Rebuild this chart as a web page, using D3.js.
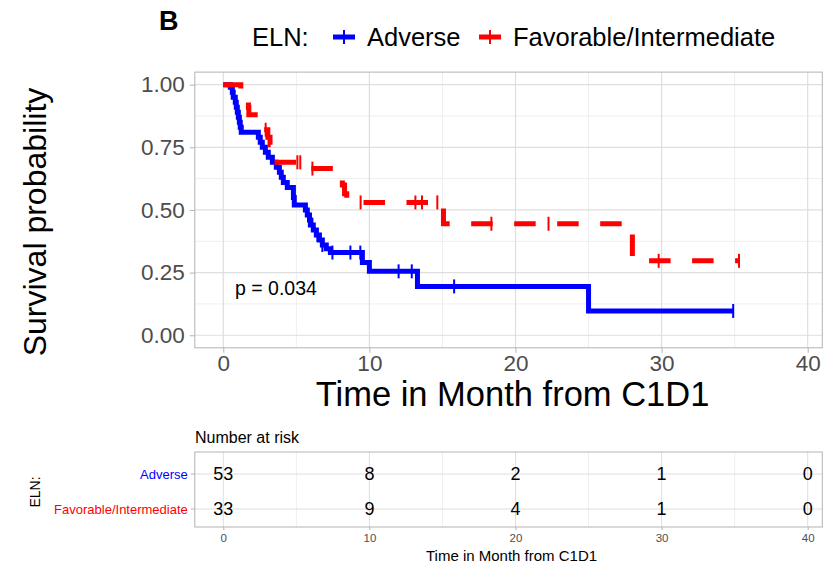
<!DOCTYPE html>
<html>
<head>
<meta charset="utf-8">
<script src="https://cdn.jsdelivr.net/npm/d3@7"></script>
<style>
  body { margin: 0; background: #fff; }
  text { font-family: "Liberation Sans", Arial, Helvetica, sans-serif; }
</style>
</head>
<body>
<script>
// ---- data ----
var groups = ['Adverse', 'Favorable/Intermediate'];
var groupColors = ['#0000ff', '#ff0000'];

// Adverse: step times (months) and survival after each step
var adverseTime = [0, 0.48, 0.62, 0.68, 0.82, 0.89, 0.96, 1.03, 1.1, 1.16, 1.23, 2.4, 2.53, 2.67, 2.88, 3.08, 3.36, 3.63, 3.84, 3.97, 4.11, 4.38, 4.8, 4.86, 5.62, 5.75, 5.9, 5.96, 6.16, 6.37, 6.58, 6.78, 7.05, 7.33, 9.52, 10.0, 13.29, 25.0];
var adverseSurv = [1, 0.99, 0.97, 0.95, 0.93, 0.91, 0.89, 0.87, 0.85, 0.83, 0.81, 0.79, 0.77, 0.75, 0.73, 0.71, 0.69, 0.67, 0.65, 0.63, 0.61, 0.59, 0.55, 0.52, 0.50, 0.48, 0.46, 0.44, 0.42, 0.40, 0.38, 0.36, 0.345, 0.33, 0.29, 0.255, 0.195, 0.097];
var adverseCensor = [6.1, 6.44, 6.78, 7.47, 8.7, 9.38, 12.0, 12.9, 15.8, 34.9];
var adverseEnd = 34.9;

// Favorable/Intermediate
var favTime = [0, 1.2, 1.5, 1.72, 1.75, 2.4, 2.65, 3.05, 3.2, 3.35, 3.42, 5.7, 8.05, 8.15, 8.3, 8.45, 15.07, 28.0];
var favSurv = [1, 0.97, 0.94, 0.91, 0.88, 0.85, 0.82, 0.79, 0.76, 0.725, 0.69, 0.665, 0.635, 0.60, 0.565, 0.53, 0.445, 0.297];
var favCensor = [2.9, 5.07, 5.27, 6.1, 9.4, 13.15, 13.6, 14.65, 18.35, 22.26, 29.8, 35.3];
var favEnd = 35.3;

// number at risk table
var riskTimes = [0, 10, 20, 30, 40];
var adverseRisk = [53, 8, 2, 1, 0];
var favRisk = [33, 9, 4, 1, 0];

var xTicks = [0, 10, 20, 30, 40];
var xMinor = [5, 15, 25, 35];
var yTicks = [0, 0.25, 0.5, 0.75, 1];
var yMinor = [0.125, 0.375, 0.625, 0.875];
var pLabel = 'p = 0.034';

// ---- layout ----
var W = 836, H = 570;
var svg = d3.select('body').append('svg').attr('width', W).attr('height', H);
svg.append('rect').attr('width', W).attr('height', H).attr('fill', '#fff');

var x = d3.scaleLinear().domain([-1.95, 41.0]).range([194.8, 822.3]);
var y = d3.scaleLinear().domain([-0.05, 1.05]).range([347.8, 72.1]);

/* panel A: survival curves */
var panel = svg.append('g');
panel.selectAll('.vminor').data(xMinor).enter().append('line')
  .attr('x1', d => x(d)).attr('x2', d => x(d)).attr('y1', y.range()[0]).attr('y2', y.range()[1])
  .attr('stroke', '#efefef').attr('stroke-width', 1);
panel.selectAll('.hminor').data(yMinor).enter().append('line')
  .attr('y1', d => y(d)).attr('y2', d => y(d)).attr('x1', x.range()[0]).attr('x2', x.range()[1])
  .attr('stroke', '#efefef').attr('stroke-width', 1);
panel.selectAll('.vmajor').data(xTicks).enter().append('line')
  .attr('x1', d => x(d)).attr('x2', d => x(d)).attr('y1', y.range()[0]).attr('y2', y.range()[1])
  .attr('stroke', '#dedede').attr('stroke-width', 1.2);
panel.selectAll('.hmajor').data(yTicks).enter().append('line')
  .attr('y1', d => y(d)).attr('y2', d => y(d)).attr('x1', x.range()[0]).attr('x2', x.range()[1])
  .attr('stroke', '#dedede').attr('stroke-width', 1.2);

// axes
var xAxis = svg.append('g').attr('transform', 'translate(0,' + y.range()[0] + ')')
  .call(d3.axisBottom(x).tickValues(xTicks).tickSize(5).tickPadding(5));
var yAxis = svg.append('g').attr('transform', 'translate(' + x.range()[0] + ',0)')
  .call(d3.axisLeft(y).tickValues(yTicks).tickFormat(d3.format('.2f')).tickSize(5).tickPadding(5));
[xAxis, yAxis].forEach(function (a) {
  a.select('.domain').remove();
  a.selectAll('line').attr('stroke', '#b3b3b3');
  a.selectAll('text').attr('fill', '#4d4d4d').style('font-size', '22.5px');
});
xAxis.selectAll('text').attr('dy', '0.6em');

panel.append('rect')
  .attr('x', x.range()[0]).attr('y', y.range()[1])
  .attr('width', x.range()[1] - x.range()[0]).attr('height', y.range()[0] - y.range()[1])
  .attr('fill', 'none').attr('stroke', '#b3b3b3').attr('stroke-width', 1);

// step curves
var stepLine = d3.line().x(d => x(d[0])).y(d => y(d[1])).curve(d3.curveStepAfter);
function stepPoints(times, surv, end) {
  var pts = times.map((t, i) => [t, surv[i]]);
  pts.push([end, surv[surv.length - 1]]);
  return pts;
}
function survAt(times, surv, t) {
  var i = d3.bisectRight(times, t) - 1;
  return surv[Math.max(0, i)];
}
var curves = [
  { time: adverseTime, surv: adverseSurv, cens: adverseCensor, end: adverseEnd, color: groupColors[0], dash: null },
  { time: favTime, surv: favSurv, cens: favCensor, end: favEnd, color: groupColors[1], dash: '21.5,21.5' }
];
curves.forEach(function (c) {
  var g = svg.append('g');
  g.append('path')
    .attr('d', stepLine(stepPoints(c.time, c.surv, c.end)))
    .attr('fill', 'none').attr('stroke', c.color).attr('stroke-width', 5)
    .attr('stroke-dasharray', c.dash);
  g.selectAll('.cens').data(c.cens).enter().append('line')
    .attr('x1', d => x(d)).attr('x2', d => x(d))
    .attr('y1', d => y(survAt(c.time, c.surv, d)) - 7)
    .attr('y2', d => y(survAt(c.time, c.surv, d)) + 7)
    .attr('stroke', c.color).attr('stroke-width', 2);
});

svg.append('text').attr('x', x(0.8)).attr('y', 295).style('font-size', '19.5px').attr('fill', '#000').text(pLabel);

// axis titles
svg.append('text').attr('transform', 'translate(46,222) rotate(-90)').attr('text-anchor', 'middle')
  .style('font-size', '32px').text('Survival probability');
svg.append('text').attr('x', (x.range()[0] + x.range()[1]) / 2 + 4).attr('y', 406).attr('text-anchor', 'middle')
  .style('font-size', '34.5px').text('Time in Month from C1D1');

// panel label
svg.append('text').attr('x', 159).attr('y', 30).style('font-size', '27px').style('font-weight', 'bold').text('B');

// legend
var leg = svg.append('g');
leg.append('text').attr('x', 252).attr('y', 46).style('font-size', '25.5px').text('ELN:');
var legX = [333, 479];
groups.forEach(function (gname, i) {
  leg.append('line').attr('x1', legX[i]).attr('x2', legX[i] + 22).attr('y1', 37).attr('y2', 37)
    .attr('stroke', groupColors[i]).attr('stroke-width', 5);
  leg.append('line').attr('x1', legX[i] + 11).attr('x2', legX[i] + 11).attr('y1', 30).attr('y2', 44)
    .attr('stroke', groupColors[i]).attr('stroke-width', 2);
  leg.append('text').attr('x', legX[i] + 34).attr('y', 46).style('font-size', '25.5px').text(gname);
});

/* risk table */
var tTop = 452, tBot = 527;
var rowY = [474, 509];
var tg = svg.append('g');
tg.selectAll('.tvminor').data(xMinor).enter().append('line')
  .attr('x1', d => x(d)).attr('x2', d => x(d)).attr('y1', tTop).attr('y2', tBot)
  .attr('stroke', '#efefef');
tg.selectAll('.tvmajor').data(xTicks).enter().append('line')
  .attr('x1', d => x(d)).attr('x2', d => x(d)).attr('y1', tTop).attr('y2', tBot)
  .attr('stroke', '#dedede');
tg.selectAll('.thmajor').data(rowY).enter().append('line')
  .attr('x1', x.range()[0]).attr('x2', x.range()[1]).attr('y1', d => d).attr('y2', d => d)
  .attr('stroke', '#dedede');
tg.append('rect').attr('x', x.range()[0]).attr('y', tTop)
  .attr('width', x.range()[1] - x.range()[0]).attr('height', tBot - tTop)
  .attr('fill', 'none').attr('stroke', '#b3b3b3');

var tAxis = svg.append('g').attr('transform', 'translate(0,' + tBot + ')')
  .call(d3.axisBottom(x).tickValues(xTicks).tickSize(3).tickPadding(4));
tAxis.select('.domain').remove();
tAxis.selectAll('line').attr('stroke', '#b3b3b3');
tAxis.selectAll('text').attr('fill', '#4d4d4d').style('font-size', '11.5px');

[adverseRisk, favRisk].forEach(function (vals, i) {
  tg.selectAll('.risk' + i).data(vals).enter().append('text')
    .attr('x', (d, j) => x(riskTimes[j])).attr('y', rowY[i]).attr('dy', '0.35em')
    .attr('text-anchor', 'middle').style('font-size', '18px').text(d => d);
  tg.append('line').attr('x1', x.range()[0] - 4).attr('x2', x.range()[0]).attr('y1', rowY[i]).attr('y2', rowY[i])
    .attr('stroke', '#b3b3b3');
  tg.append('text').attr('x', x.range()[0] - 7).attr('y', rowY[i]).attr('dy', '0.35em')
    .attr('text-anchor', 'end').attr('fill', groupColors[i]).style('font-size', '13px').text(groups[i]);
});

svg.append('text').attr('x', 195).attr('y', 443).style('font-size', '16px').text('Number at risk');
svg.append('text').attr('x', (x.range()[0] + x.range()[1]) / 2 + 3).attr('y', 561).attr('text-anchor', 'middle')
  .style('font-size', '15px').text('Time in Month from C1D1');
svg.append('text').attr('transform', 'translate(40,492) rotate(-90)').attr('text-anchor', 'middle')
  .style('font-size', '14px').text('ELN:');
</script>
</body>
</html>
